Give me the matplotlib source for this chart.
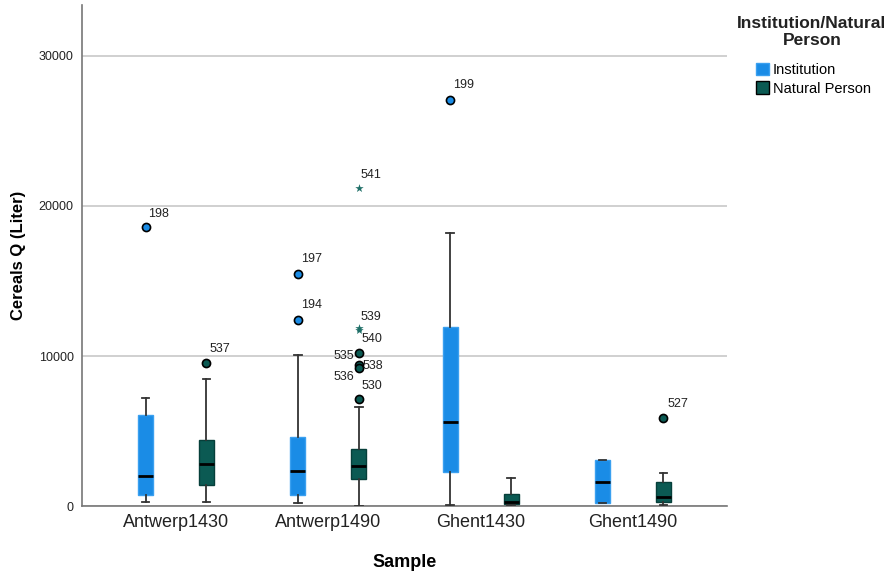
import matplotlib
matplotlib.use('Agg')
import matplotlib.pyplot as plt
import matplotlib.patches as mpatches
import numpy as np

plt.rcParams['font.family'] = ['Liberation Sans', 'DejaVu Sans']

samples = ["Antwerp1430", "Antwerp1490", "Ghent1430", "Ghent1490"]
groups = ["Institution", "Natural Person"]

# box statistics (Liter)
inst_whislo = [240, 200, 70, 220]
inst_q1 = [730, 730, 2240, 220]
inst_med = [1980, 2330, 5620, 1620]
inst_q3 = [6070, 4620, 11960, 3070]
inst_whishi = [7220, 10040, 18220, 3070]

nat_whislo = [250, 0, 50, 50]
nat_q1 = [1400, 1780, 130, 240]
nat_med = [2820, 2640, 290, 620]
nat_q3 = [4420, 3820, 800, 1580]
nat_whishi = [8470, 6600, 1840, 2180]

# outliers: sample index, value, case id
inst_out_idx = [0, 1, 1, 2]
inst_out_val = [18580, 15470, 12420, 27050]
inst_out_id = ["198", "197", "194", "199"]

nat_out_idx = [0, 1, 1, 1, 1, 3]
nat_out_val = [9560, 10180, 9400, 9180, 7130, 5840]
nat_out_id = ["537", "535", "538", "536", "530", "527"]

# extreme values (stars)
nat_ext_idx = [1, 1, 1]
nat_ext_val = [21220, 11890, 11730]
nat_ext_id = ["541", "539", "540"]

# label offsets in pixels (dx, dy, ha)
label_pos = {
    "198": (3, 13, 'left'), "197": (3, 15, 'left'), "194": (3, 15, 'left'),
    "199": (3, 15, 'left'), "537": (3, 14, 'left'), "541": (2, 13, 'left'),
    "539": (2, 11, 'left'), "540": (3, -9, 'left'), "535": (-5, -3, 'right'),
    "538": (4, -1, 'left'), "536": (-5, -9, 'right'), "530": (3, 13, 'left'),
    "527": (4, 14, 'left'),
}

c_inst = "#1a8ce6"
c_nat = "#0b5a53"
edge_inst = "#3aa0f0"
edge_nat = "#063f3a"

fig = plt.figure(figsize=(8.95, 5.73), dpi=100)
ax = fig.add_axes([0.0916, 0.1169, 0.7207, 0.8744])

x = np.arange(len(samples))
offset = 0.2
width = 0.1


def make_stats(lo, q1, med, q3, hi):
    return [dict(whislo=lo[i], q1=q1[i], med=med[i], q3=q3[i], whishi=hi[i],
                 fliers=[]) for i in range(len(lo))]


for stats, pos, fc, ec in [
        (make_stats(inst_whislo, inst_q1, inst_med, inst_q3, inst_whishi), x - offset, c_inst, edge_inst),
        (make_stats(nat_whislo, nat_q1, nat_med, nat_q3, nat_whishi), x + offset, c_nat, edge_nat)]:
    ax.bxp(stats, positions=pos, widths=width, patch_artist=True, showfliers=False,
           boxprops=dict(facecolor=fc, edgecolor=ec, linewidth=1),
           medianprops=dict(color='black', linewidth=2),
           whiskerprops=dict(color='#333333', linewidth=1.3),
           capprops=dict(color='#333333', linewidth=1.3), capwidths=0.05,
           manage_ticks=False, zorder=3)


def put_labels(xs, vals, ids):
    for xx, v, t in zip(xs, vals, ids):
        dx, dy, ha = label_pos[t]
        ax.annotate(t, (xx, v), xytext=(dx, dy), textcoords='offset pixels',
                    ha=ha, va='center', fontsize=9, color='#222222', zorder=5)


xi = x[inst_out_idx] - offset
ax.scatter(xi, inst_out_val, s=34, facecolor=c_inst, edgecolor='black',
           linewidth=1.2, zorder=4)
put_labels(xi, inst_out_val, inst_out_id)

xn = x[nat_out_idx] + offset
ax.scatter(xn, nat_out_val, s=34, facecolor=c_nat, edgecolor='black',
           linewidth=1.2, zorder=4)
put_labels(xn, nat_out_val, nat_out_id)

xe = x[nat_ext_idx] + offset
ax.scatter(xe, nat_ext_val, s=40, marker='*', color='#1f6f68', linewidth=0, zorder=4)
put_labels(xe, nat_ext_val, nat_ext_id)

ax.set_xlim(-0.617, 3.617)
ax.set_ylim(0, 33400)
ax.set_yticks([0, 10000, 20000, 30000])
ax.set_xticks(x)
ax.set_xticklabels(samples, fontsize=13, color='#222222')
ax.tick_params(axis='y', labelsize=9, length=0, pad=6, labelcolor='#222222')
ax.tick_params(axis='x', length=0, pad=6)
ax.grid(axis='y', color='#c8c8c8', linewidth=1.2, zorder=0)
ax.set_axisbelow(True)
for s in ['top', 'right']:
    ax.spines[s].set_visible(False)
for s in ['left', 'bottom']:
    ax.spines[s].set_color('#777777')
    ax.spines[s].set_linewidth(1.2)

ax.set_xlabel("Sample", fontsize=13, fontweight='bold', labelpad=16)
ax.set_ylabel("Cereals Q (Liter)", fontsize=12, fontweight='bold', labelpad=9)

# legend title drawn as its own text, entries below it
fig.text(812 / 895, 1 - 16 / 573, "Institution/Natural\nPerson", ha='center',
         va='top', fontsize=12.5, fontweight='bold', linespacing=1.2,
         color='#222222')
handles = [mpatches.Patch(facecolor=c_inst, edgecolor=edge_inst, label=groups[0]),
           mpatches.Patch(facecolor=c_nat, edgecolor='black', label=groups[1])]
fig.legend(handles=handles, loc='upper left', bbox_to_anchor=(756 / 895, 1 - 63 / 573),
           frameon=False, fontsize=10.5, handlelength=0.9, handleheight=0.9,
           handletextpad=0.27, labelspacing=0.3, borderpad=0, borderaxespad=0)

fig.savefig("out.png", dpi=100)
